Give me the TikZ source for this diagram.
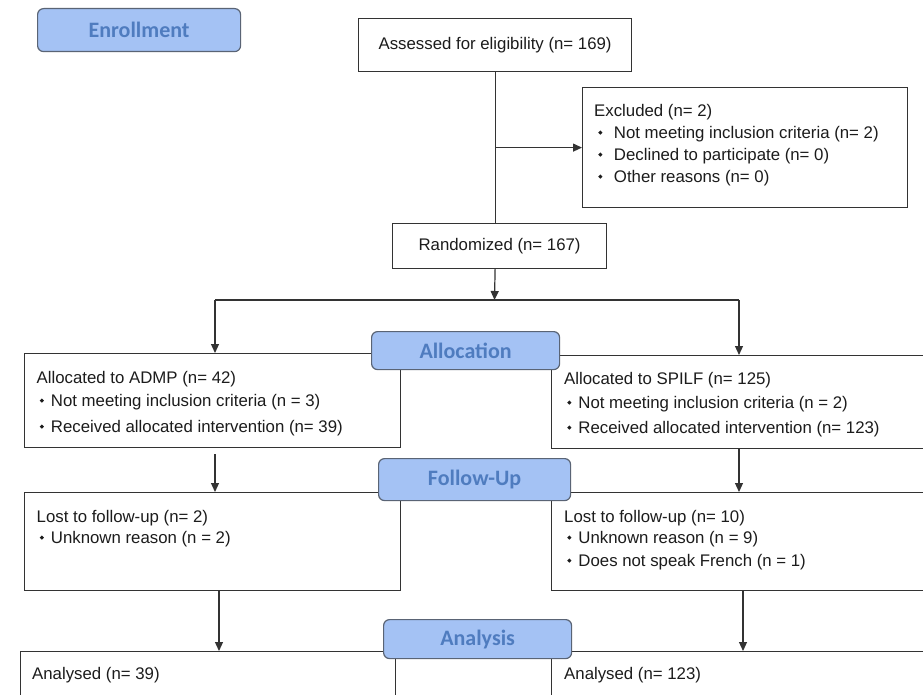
\documentclass[tikz,border=0pt]{standalone}
\usepackage{fontspec}
\setmainfont{Liberation Sans}
\newfontfamily\labfont{Carlito}
\usetikzlibrary{arrows.meta}
\definecolor{lnc}{HTML}{333333}
\definecolor{txc}{HTML}{1C1C1C}
\definecolor{labf}{HTML}{A4C2F4}
\definecolor{labd}{HTML}{5A6475}
\definecolor{labt}{HTML}{4F7CBF}
\newcommand\dia{\raisebox{0.2em}{\rotatebox{45}{\rule{3pt}{3pt}}}}
\newcommand\bla{\hspace*{3pt}\dia\hspace{7pt}}
\newcommand\blb{\hspace*{4pt}\dia\hspace{11.5pt}}
\begin{document}
\begin{tikzpicture}[x=1pt,y=-1pt,
  box/.style={draw=lnc, line width=1.2pt, fill=white, inner sep=0pt, anchor=north west, text=txc, font=\fontsize{16.8}{22}\selectfont},
  lab/.style={draw=labd, fill=labf, line width=1.2pt, rounded corners=6pt, inner sep=0pt, anchor=north west, font=\labfont\bfseries\fontsize{22}{26}\selectfont, text=labt},
  txt/.style={inner sep=0pt, anchor=north west, align=left, text=txc, font=\fontsize{16.8}{22}\selectfont},
  arr/.style={draw=lnc, line width=1.2pt, -{Triangle[length=9pt,width=8pt]}},
  ln/.style={draw=lnc, line width=1.2pt}]
\useasboundingbox (0,0) rectangle (923,695);
\clip (0,0) rectangle (923,695);
\fill[white] (0,0) rectangle (923,695);

% boxes
\node[box, minimum width=273pt, minimum height=53pt] (assess) at (358,18) {Assessed for eligibility (n= 169)};
\node[box, minimum width=325pt, minimum height=120pt] (excl) at (582,87) {};
\node[box, minimum width=214pt, minimum height=45pt] (rand) at (392,223) {Randomized (n= 167)};
\node[box, minimum width=376.5pt, minimum height=94pt] (allocL) at (23.5,353) {};
\node[box, minimum width=420pt, minimum height=93pt] (allocR) at (551,355) {};
\node[box, minimum width=376.5pt, minimum height=98pt] (fuL) at (23.5,492) {};
\node[box, minimum width=420pt, minimum height=98pt] (fuR) at (551,492) {};
\node[box, minimum width=375.5pt, minimum height=120pt] (anL) at (19.5,651) {};
\node[box, minimum width=420pt, minimum height=120pt] (anR) at (551,651) {};

% texts
\node[txt] (exclt) at (594,103.7) {Excluded (n= 2)\\
\blb Not meeting inclusion criteria (n= 2)\\
\blb Declined to participate (n= 0)\\
\blb Other reasons (n= 0)};
\node[txt] (allocLt) at (36.5,370.7) {Allocated to ADMP (n= 42)\\[1pt]
\bla Not meeting inclusion criteria (n = 3)\\[4pt]
\bla Received allocated intervention (n= 39)};
\node[txt] (allocRt) at (564,371.7) {Allocated to SPILF (n= 125)\\[2pt]
\bla Not meeting inclusion criteria (n = 2)\\[3pt]
\bla Received allocated intervention (n= 123)};
\node[txt] (fuLt) at (36.5,509.7) {Lost to follow-up (n= 2)\\[-1pt]
\bla Unknown reason (n = 2)};
\node[txt] (fuRt) at (564,509.7) {Lost to follow-up (n= 10)\\[-1pt]
\bla Unknown reason (n = 9)\\[1pt]
\bla Does not speak French (n = 1)};
\node[txt] (anLt) at (32,666.7) {Analysed (n= 39)};
\node[txt] (anRt) at (564,666.7) {Analysed (n= 123)};

% connectors
\coordinate (split) at (494.5,300);
\coordinate (sL) at (215,300);
\coordinate (sR) at (739,300);
\coordinate (aL) at (219,0);
\coordinate (aR) at (743,0);
\draw[ln] (assess.south) -- (assess.south |- rand.north);
\draw[arr] (assess.south |- excl.west) -- (excl.west);
\draw[arr] (assess.south |- rand.south) -- (split);
\draw[ln] (sL) -- (sR);
\draw[arr] (sL) -- (sL |- allocL.north);
\draw[arr] (sR) -- (sR |- allocR.north);
\draw[arr] ([yshift=-6pt]allocL.south -| sL) -- (fuL.north -| sL);
\draw[arr] (allocR.south -| sR) -- (fuR.north -| sR);
\draw[arr] (fuL.south -| aL) -- (anL.north -| aL);
\draw[arr] (fuR.south -| aR) -- (anR.north -| aR);

% stage labels
\node[lab, minimum width=203pt, minimum height=43pt] (enroll) at (37,8) {Enrollment};
\node[lab, minimum width=188pt, minimum height=38pt] (alloc) at (371,331) {Allocation};
\node[lab, minimum width=192pt, minimum height=42pt] (fu) at (378,458) {Follow-Up};
\node[lab, minimum width=188pt, minimum height=39pt] (an) at (383,619) {Analysis};
\end{tikzpicture}
\end{document}
